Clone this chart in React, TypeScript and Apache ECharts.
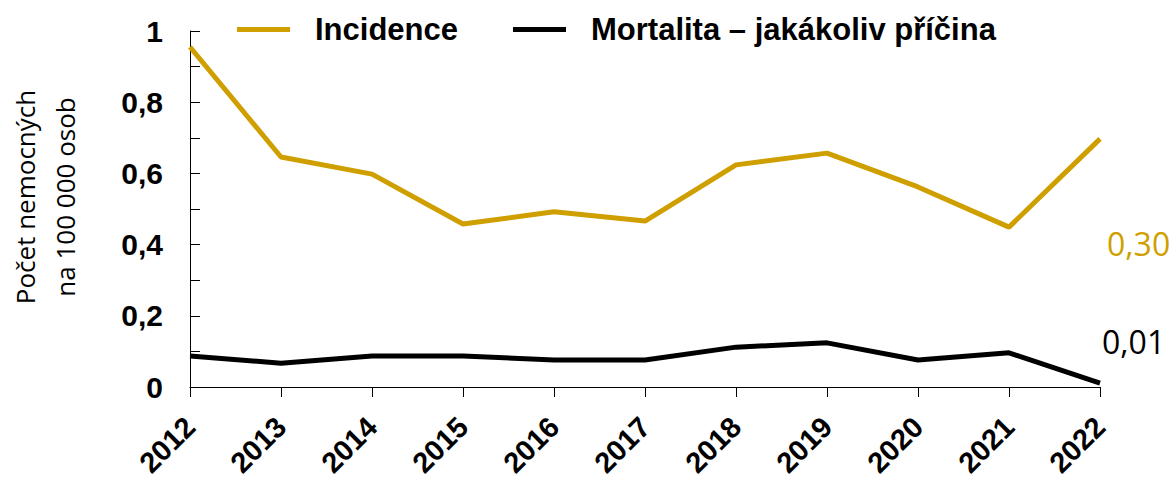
import React, { useEffect, useRef } from "react";
import * as echarts from "echarts";

const years = ["2012", "2013", "2014", "2015", "2016", "2017", "2018", "2019", "2020", "2021", "2022"];
const incidence = [0.955, 0.646, 0.598, 0.458, 0.492, 0.466, 0.624, 0.657, 0.562, 0.449, 0.697];
const mortality = [0.087, 0.067, 0.087, 0.087, 0.076, 0.076, 0.112, 0.124, 0.076, 0.096, 0.011];
const seriesNames = ["Incidence", "Mortalita – jakákoliv příčina"];
const endLabels = ["0,30", "0,01"];
const GOLD = "#CF9F00";

export default function App() {
  const ref = useRef<HTMLDivElement>(null);
  useEffect(() => {
    const chart = echarts.init(ref.current!, null, { renderer: "svg" });
    chart.setOption({
      animation: false,
      grid: { left: 190, right: 76, top: 31, bottom: 93, containLabel: false, outerBoundsMode: "none" },
      legend: {
        top: 9,
        left: 232,
        icon: "rect",
        itemWidth: 53,
        itemHeight: 5,
        itemGap: 55,
        textStyle: {
          fontFamily: "Liberation Sans, Arial, sans-serif",
          fontWeight: "bold",
          fontSize: 31,
          color: "#000",
          padding: [0, 0, 0, 20],
        },
        data: seriesNames,
      },
      xAxis: {
        type: "category",
        data: years,
        boundaryGap: false,
        axisLine: { lineStyle: { color: "#000", width: 1 } },
        axisTick: { show: true, length: 10, lineStyle: { color: "#000" } },
        axisLabel: {
          rotate: 45,
          interval: 0,
          margin: 35,
          fontFamily: "Liberation Sans, Arial, sans-serif",
          fontWeight: "bold",
          fontSize: 29,
          color: "#000",
        },
      },
      yAxis: {
        type: "value",
        min: 0,
        max: 1,
        interval: 0.1,
        name: "Počet nemocných\nna 100 000 osob",
        nameLocation: "middle",
        nameGap: 105,
        nameTextStyle: {
          fontFamily: "Open Sans, Liberation Sans, sans-serif",
          fontSize: 26,
          color: "#000",
          lineHeight: 40,
          padding: [0, 0, 0, 24],
        },
        splitLine: { show: false },
        axisLine: { show: true, lineStyle: { color: "#000", width: 1 } },
        axisTick: { show: true, inside: true, length: 10, lineStyle: { color: "#000" } },
        axisLabel: {
          margin: 27,
          fontFamily: "Liberation Sans, Arial, sans-serif",
          fontWeight: "bold",
          fontSize: 30,
          color: "#000",
          formatter: (v: number) => {
            const r = Math.round(v * 10);
            if (r % 2 !== 0) return "";
            if (r === 0) return "0";
            if (r === 10) return "1";
            return (r / 10).toFixed(1).replace(".", ",");
          },
        },
      },
      series: [
        {
          name: seriesNames[0],
          type: "line",
          data: incidence,
          showSymbol: false,
          symbol: "none",
          lineStyle: { color: GOLD, width: 5 },
          itemStyle: { color: GOLD },
        },
        {
          name: seriesNames[1],
          type: "line",
          data: mortality,
          showSymbol: false,
          symbol: "none",
          lineStyle: { color: "#000", width: 5 },
          itemStyle: { color: "#000" },
        },
      ],
      graphic: [
        {
          type: "text",
          left: 1107,
          top: 227,
          style: {
            text: endLabels[0],
            fill: GOLD,
            fontSize: 32,
            fontFamily: "Open Sans, Liberation Sans, sans-serif",
          },
        },
        {
          type: "text",
          left: 1102,
          top: 325,
          style: {
            text: endLabels[1],
            fill: "#000",
            fontSize: 32,
            fontFamily: "Open Sans, Liberation Sans, sans-serif",
          },
        },
      ],
    });
    return () => chart.dispose();
  }, []);
  return <div ref={ref} style={{ width: 1176, height: 480, position: "absolute", left: 0, top: 0 }} />;
}
